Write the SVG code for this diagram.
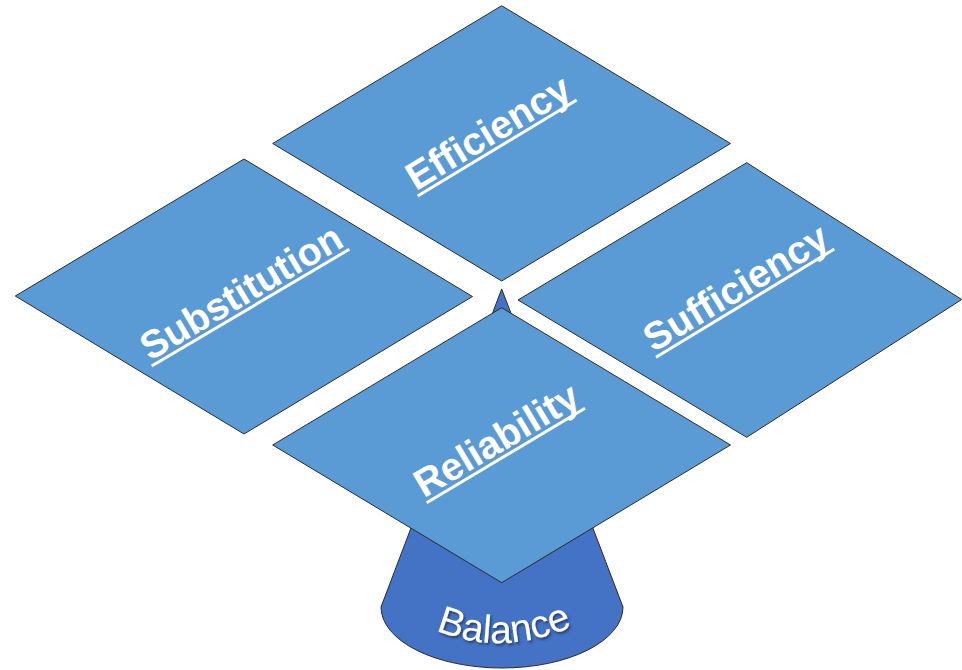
<svg xmlns="http://www.w3.org/2000/svg" width="962" height="670" viewBox="0 0 962 670">
<defs>
<style>
.tile{fill:#5B9BD5;stroke:#2b2b2b;stroke-width:1;}
.cone{fill:#4472C4;stroke:#2b2b2b;stroke-width:1;}
.lbl{font-family:"Liberation Sans",Arial,sans-serif;font-weight:bold;font-size:39px;fill:#ffffff;text-anchor:middle;}
.ul{stroke:#ffffff;stroke-width:3;}
.bal{font-family:"Liberation Sans",Arial,sans-serif;font-size:39px;fill:#ffffff;}
</style>
<filter id="shadow" x="-20%" y="-20%" width="140%" height="160%">
<feDropShadow dx="1.5" dy="2" stdDeviation="1.2" flood-color="#1a2a4a" flood-opacity="0.7"/>
</filter>
<path id="balArc" d="M 426 626 Q 502 662 582 622"/>
</defs>
<g id="balance">
<path class="cone" d="M 501.7 289 L 381 607 A 121 61 0 0 0 623 607 Z"/>
<text class="bal" filter="url(#shadow)"><textPath href="#balArc" startOffset="50%" text-anchor="middle">Balance</textPath></text>
</g>
<g id="efficiency">
<polygon class="tile" points="501.7,5.7 730.5,143.5 501.7,281 272.7,143.5"/>
<text class="lbl" transform="translate(494.9,143.7) rotate(-31)">Efficiency</text>
<line class="ul" x1="417.7" y1="196" x2="576.7" y2="100"/>
</g>
<g id="substitution">
<polygon class="tile" points="244,159 472.5,296.5 244,434 15.3,296"/>
<text class="lbl" transform="translate(247.9,303.4) rotate(-30.6)">Substitution</text>
<line class="ul" x1="151.7" y1="366" x2="349.3" y2="249.3"/>
</g>
<g id="sufficiency">
<polygon class="tile" points="746.7,162.7 961.7,299.5 746.7,437.3 518,300"/>
<text class="lbl" transform="translate(742.6,298.9) rotate(-31.2)">Sufficiency</text>
<line class="ul" x1="656" y1="357.3" x2="834.3" y2="249"/>
</g>
<g id="reliability">
<polygon class="tile" points="501.7,307.7 730.5,445 501.7,582.7 272.7,445"/>
<text class="lbl" transform="translate(503.2,451.2) rotate(-30.8)">Reliability</text>
<line class="ul" x1="426.7" y1="502.7" x2="585" y2="408.3"/>
</g>
<g id="connectors"></g>
</svg>
